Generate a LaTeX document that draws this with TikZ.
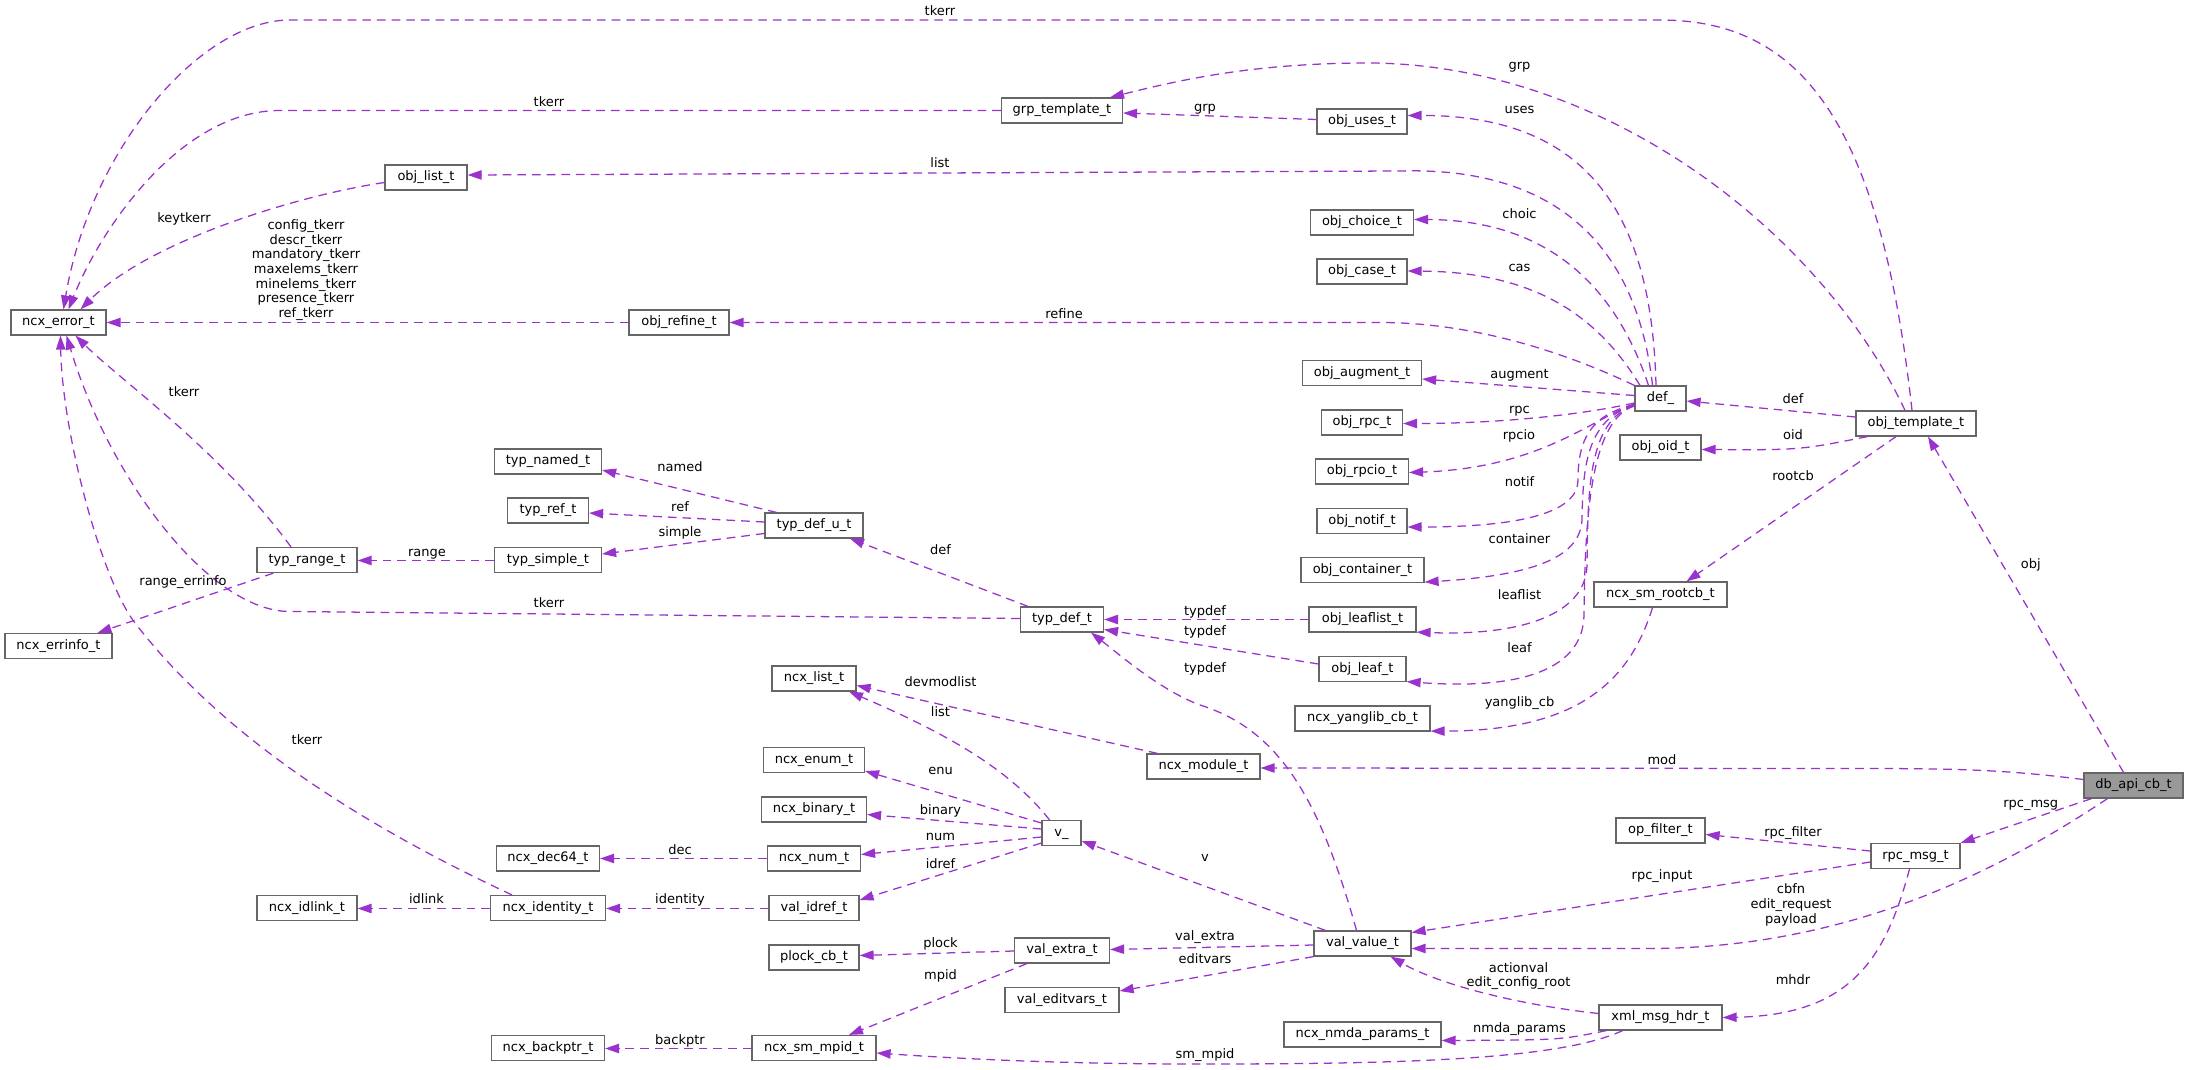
\documentclass[tikz,border=0pt]{standalone}
\usepackage{fontspec}
\setmainfont{DejaVu Sans}
\usetikzlibrary{arrows.meta,calc}
\definecolor{edgec}{HTML}{9A32CD}
\definecolor{boxc}{HTML}{666666}
\definecolor{mainfill}{HTML}{999999}
\begin{document}
\begin{tikzpicture}[x=0.75pt,y=-0.75pt,font=\fontsize{9.75pt}{11pt}\selectfont,
  box/.style={draw=boxc, fill=white, line width=0.9pt, inner sep=0pt, minimum height=18.75pt, text height=7pt, text depth=2.1pt},
  bw/.style={minimum width=#1*0.75pt},
  mainbox/.style={box, fill=mainfill},
  edge/.style={draw=edgec, line width=0.95pt, dash pattern=on 6.5pt off 4.5pt, -{Triangle[length=10.5pt,width=7pt,fill=edgec]}},
  lab/.style={inner sep=0pt, anchor=base},
  mlab/.style={inner sep=0pt, anchor=center, align=center}]
\fill[white] (0,0) rectangle (2188,1070);
\useasboundingbox (0,0) rectangle (2188,1070);

% nodes
\node[box,bw=95] (errt) at (58.5,322.5) {ncx\_error\_t};
\node[box,bw=82] (olist) at (426,177.5) {obj\_list\_t};
\node[box,bw=100] (orefine) at (679,322.5) {obj\_refine\_t};
\node[box,bw=107] (tnamed) at (548,461.5) {typ\_named\_t};
\node[box,bw=81] (tref) at (548,510.5) {typ\_ref\_t};
\node[box,bw=121] (grpt) at (1062,110.5) {grp\_template\_t};
\node[box,bw=90] (ouses) at (1362,121.5) {obj\_uses\_t};
\node[box,bw=103] (ochoice) at (1362,222.5) {obj\_choice\_t};
\node[box,bw=90] (ocase) at (1362,271.5) {obj\_case\_t};
\node[box,bw=119] (oaug) at (1362,373) {obj\_augment\_t};
\node[box,bw=81] (orpc) at (1362,422.5) {obj\_rpc\_t};
\node[box,bw=93] (orpcio) at (1362,471.5) {obj\_rpcio\_t};
\node[box,bw=90] (onotif) at (1362,521) {obj\_notif\_t};
\node[box,bw=98] (tdefu) at (814,525.5) {typ\_def\_u\_t};
\node[box,bw=51] (def) at (1660.5,398.5) {def\_};
\node[box,bw=120] (otmpl) at (1916,423.5) {obj\_template\_t};
\node[box,bw=81] (ooid) at (1660.5,447.5) {obj\_oid\_t};
\node[box,bw=100] (trange) at (307,560) {typ\_range\_t};
\node[box,bw=107] (tsimple) at (548,560) {typ\_simple\_t};
\node[box,bw=107] (errinfo) at (58.5,646) {ncx\_errinfo\_t};
\node[box,bw=103] (dec64) at (548,858.5) {ncx\_dec64\_t};
\node[box,bw=100] (idlink) at (307,908) {ncx\_idlink\_t};
\node[box,bw=115] (ident) at (548,908) {ncx\_identity\_t};
\node[box,bw=113] (backptr) at (548,1048) {ncx\_backptr\_t};
\node[box,bw=83] (tdef) at (1062,619.5) {typ\_def\_t};
\node[box,bw=123] (ocont) at (1362.5,570) {obj\_container\_t};
\node[box,bw=107] (oleaflist) at (1362.5,619.5) {obj\_leaflist\_t};
\node[box,bw=87] (oleaf) at (1362.5,669) {obj\_leaf\_t};
\node[box,bw=135] (yanglib) at (1362.5,718.5) {ncx\_yanglib\_cb\_t};
\node[box,bw=84] (nlist) at (814,678.5) {ncx\_list\_t};
\node[box,bw=113] (nmod) at (1203.5,766.5) {ncx\_module\_t};
\node[box,bw=101] (nenum) at (814,760) {ncx\_enum\_t};
\node[box,bw=105] (nbin) at (814,809.5) {ncx\_binary\_t};
\node[box,bw=39] (v) at (1061.5,833) {v\_};
\node[box,bw=93] (nnum) at (814,858.5) {ncx\_num\_t};
\node[box,bw=90] (vidref) at (814,908) {val\_idref\_t};
\node[box,bw=90] (plock) at (814,957.5) {plock\_cb\_t};
\node[box,bw=95] (vextra) at (1062,950.5) {val\_extra\_t};
\node[box,bw=97] (vvalue) at (1362.5,943.5) {val\_value\_t};
\node[box,bw=114] (veditvars) at (1062,1000) {val\_editvars\_t};
\node[box,bw=157] (nmda) at (1362.5,1034.5) {ncx\_nmda\_params\_t};
\node[box,bw=124] (smmpid) at (814,1048) {ncx\_sm\_mpid\_t};
\node[box,bw=133] (rootcb) at (1660.5,594.5) {ncx\_sm\_rootcb\_t};
\node[mainbox,bw=99] (dbapi) at (2133.5,785.5) {db\_api\_cb\_t};
\node[box,bw=89] (opfilter) at (1660.5,830.5) {op\_filter\_t};
\node[box,bw=89] (rpcmsg) at (1915.5,856) {rpc\_msg\_t};
\node[box,bw=123] (xmlhdr) at (1660.5,1017.5) {xml\_msg\_hdr\_t};

% edges
\draw[edge] ($(otmpl.north)+(-4,0)$) .. controls (1880,120) and (1800,20) .. (1660,20) -- (290,20) .. controls (200,20) and (90,150) .. ($(errt.north)+(5,0)$);
\draw[edge] (grpt.west) -- (280,110.5) .. controls (180,110.5) and (100,230) .. ($(errt.north)+(10,0)$);
\draw[edge] ($(olist.west)+(0,5)$) .. controls (300,195) and (150,240) .. ($(errt.north)+(22,0)$);
\draw[edge] (orefine.west) -- (errt.east);
\draw[edge] ($(trange.north)+(-16,0)$) .. controls (220,450) and (120,380) .. ($(errt.south)+(17,0)$);
\draw[edge] ($(tdef.west)+(0,-1)$) -- (290,611.5) .. controls (210,611.5) and (110,480) .. ($(errt.south)+(8,0)$);
\draw[edge] ($(ident.north)+(-36,0)$) .. controls (330,810) and (210,720) .. (135,623) .. controls (100,577) and (62,430) .. ($(errt.south)+(2,0)$);
\draw[edge] ($(otmpl.north)+(-11,0)$) .. controls (1820,230) and (1600,60) .. (1360,63) .. controls (1250,64) and (1180,80) .. ($(grpt.north)+(48,0)$);
\draw[edge] ($(ouses.west)+(0,-2)$) -- ($(grpt.east)+(0,2.5)$);
\draw[edge] ($(def.north)+(-4.5,0)$) .. controls (1652,230) and (1600,115) .. ($(ouses.east)+(0,-6)$);
\draw[edge] ($(def.north)+(-8,0)$) .. controls (1635,230) and (1540,167) .. (1400,171) -- ($(olist.east)+(0,-2.5)$);
\draw[edge] ($(def.north)+(-12,0)$) .. controls (1620,300) and (1560,220) .. ($(ochoice.east)+(0,-3)$);
\draw[edge] ($(def.north)+(-20.5,0)$) .. controls (1600,320) and (1540,272) .. ($(ocase.east)+(0,-0.5)$);
\draw[edge] (def.north west) .. controls (1560,350) and (1470,322.5) .. (1380,322.5) -- (orefine.east);
\draw[edge] ($(def.west)+(0,-3)$) -- ($(oaug.east)+(0,6)$);
\draw[edge] ($(def.west)+(0,4.5)$) .. controls (1580,415) and (1500,423.5) .. ($(orpc.east)+(0,1)$);
\draw[edge] ($(def.west)+(0,5.5)$) .. controls (1590,420) and (1540,468) .. ($(orpcio.east)+(0,1)$);
\draw[edge] ($(def.west)+(0,6)$) .. controls (1590,415) and (1578,440) .. (1578,480) .. controls (1578,510) and (1530,527) .. ($(onotif.east)+(0,6)$);
\draw[edge] ($(def.west)+(0,6.5)$) .. controls (1585,420) and (1583,470) .. (1582,520) .. controls (1580,555) and (1540,575) .. ($(ocont.south east)+(0,-1)$);
\draw[edge] ($(def.west)+(0,7)$) .. controls (1588,420) and (1588,490) .. (1587,565) .. controls (1586,615) and (1520,636) .. ($(oleaflist.south east)+(0,-0.5)$);
\draw[edge] ($(def.west)+(0,7.5)$) .. controls (1590,420) and (1585,520) .. (1584,615) .. controls (1583,670) and (1520,690) .. ($(oleaf.south east)+(0,-0.5)$);
\draw[edge] ($(otmpl.west)+(0,-6.5)$) -- ($(def.east)+(0,2.5)$);
\draw[edge] ($(otmpl.south west)+(12,0)$) .. controls (1800,450) .. ($(ooid.east)+(0,2)$);
\draw[edge] ($(otmpl.south)+(-20,0)$) -- ($(rootcb.north)+(26,0)$);
\draw[edge] ($(rootcb.south)+(-8,0)$) .. controls (1630,680) and (1580,731) .. ($(yanglib.south east)+(0,-0.5)$);
\draw[edge] ($(dbapi.north)+(-10,0)$) -- ($(otmpl.south)+(12,0)$);
\draw[edge] ($(dbapi.west)+(0,-6)$) .. controls (2000,769) and (1950,768.5) .. (1850,768.5) -- ($(nmod.east)+(0,1.5)$);
\draw[edge] ($(dbapi.south west)+(8,0)$) -- (rpcmsg.north east);
\draw[edge] ($(dbapi.south)+(-26,0)$) .. controls (2000,870) and (1850,948) .. (1650,948.5) -- ($(vvalue.east)+(0,5)$);
\draw[edge] ($(rpcmsg.west)+(0,-5)$) -- ($(opfilter.east)+(0,4)$);
\draw[edge] ($(rpcmsg.west)+(0,6)$) -- ($(vvalue.east)+(0,-11)$);
\draw[edge] ($(rpcmsg.south)+(-6,0)$) .. controls (1885,960) and (1850,1015) .. (xmlhdr.east);
\draw[edge] ($(xmlhdr.west)+(0,-4)$) .. controls (1520,1005) and (1440,985) .. ($(vvalue.south)+(28,0)$);
\draw[edge] ($(xmlhdr.south west)+(8,0)$) .. controls (1560,1040) .. ($(nmda.east)+(0,6)$);
\draw[edge] ($(xmlhdr.south)+(-38,0)$) .. controls (1560,1060) and (1400,1064) .. (1200,1064) .. controls (1050,1064) and (950,1058) .. ($(smmpid.east)+(0,5)$);
\draw[edge] ($(vvalue.north)+(-6,0)$) .. controls (1320,800) and (1280,730) .. (1200,705) .. controls (1160,690) and (1120,655) .. ($(tdef.south)+(29,0)$);
\draw[edge] (oleaflist.west) -- (tdef.east);
\draw[edge] ($(oleaf.west)+(0,-5)$) -- ($(tdef.east)+(0,10)$);
\draw[edge] ($(tdef.north)+(-34,0)$) -- ($(tdefu.south)+(36,0)$);
\draw[edge] ($(tdefu.north west)+(12,0)$) -- ($(tnamed.east)+(0,8.5)$);
\draw[edge] ($(tdefu.west)+(0,-3.5)$) -- ($(tref.east)+(0,2.5)$);
\draw[edge] ($(tdefu.west)+(0,8)$) -- ($(tsimple.east)+(0,-6)$);
\draw[edge] ($(tsimple.west)+(0,0.5)$) -- ($(trange.east)+(0,0.5)$);
\draw[edge] ($(trange.south west)+(17,0)$) -- ($(errinfo.north)+(39,0)$);
\draw[edge] ($(nmod.north west)+(11,0)$) -- ($(nlist.east)+(0,7)$);
\draw[edge] ($(v.north)+(-12,0)$) .. controls (1010,770) and (950,735) .. ($(nlist.south)+(35,0)$);
\draw[edge] ($(v.west)+(0,-10)$) -- ($(nenum.east)+(0,11)$);
\draw[edge] ($(v.west)+(0,-4)$) -- ($(nbin.east)+(0,5)$);
\draw[edge] ($(v.west)+(0,4)$) -- ($(nnum.east)+(0,-4)$);
\draw[edge] ($(v.west)+(0,10)$) -- ($(vidref.east)+(0,-8)$);
\draw[edge] (nnum.west) -- (dec64.east);
\draw[edge] ($(vidref.west)+(0,0.5)$) -- ($(ident.east)+(0,0.5)$);
\draw[edge] ($(ident.west)+(0,0.5)$) -- ($(idlink.east)+(0,0.5)$);
\draw[edge] ($(vvalue.north west)+(12,0)$) -- ($(v.east)+(0,8)$);
\draw[edge] ($(vvalue.west)+(0,1.5)$) -- ($(vextra.east)+(0,-1)$);
\draw[edge] (vvalue.south west) -- ($(veditvars.east)+(0,-9)$);
\draw[edge] ($(vextra.west)+(0,0.5)$) -- ($(plock.east)+(0,-2)$);
\draw[edge] ($(vextra.south west)+(13,0)$) -- ($(smmpid.north)+(35,0)$);
\draw[edge] ($(smmpid.west)+(0,0.5)$) -- ($(backptr.east)+(0,0.5)$);

% labels
\node[lab] (l1) at (940,15.5) {tkerr};
\node[lab] (l2) at (549,106.5) {tkerr};
\node[lab] (l3) at (184,222.5) {keytkerr};
\node[mlab] (l4) at (306,270) {config\_tkerr\\descr\_tkerr\\mandatory\_tkerr\\maxelems\_tkerr\\minelems\_tkerr\\presence\_tkerr\\ref\_tkerr};
\node[lab] (l5) at (184,396) {tkerr};
\node[lab] (l6) at (680,471.5) {named};
\node[lab] (l7) at (680,511.5) {ref};
\node[lab] (l8) at (680,536.5) {simple};
\node[lab] (l9) at (1205,112) {grp};
\node[lab] (l10) at (940,167.5) {list};
\node[lab] (l11) at (1064,318.5) {refine};
\node[lab] (l12) at (1519.5,69.5) {grp};
\node[lab] (l13) at (1519.5,113.5) {uses};
\node[lab] (l14) at (1519.5,218.5) {choic};
\node[lab] (l15) at (1519.5,271) {cas};
\node[lab] (l16) at (1519.5,378.5) {augment};
\node[lab] (l17) at (1519.5,413.5) {rpc};
\node[lab] (l18) at (1519,439.5) {rpcio};
\node[lab] (l19) at (1519.5,486.5) {notif};
\node[lab] (l20) at (1793,403.5) {def};
\node[lab] (l21) at (1793,439.5) {oid};
\node[lab] (l22) at (1793,480.5) {rootcb};
\node[lab] (l23) at (1519.5,543.5) {container};
\node[lab] (l24) at (1519.5,599) {leaflist};
\node[lab] (l25) at (1519.5,652.5) {leaf};
\node[lab] (l26) at (1519.5,706.5) {yanglib\_cb};
\node[lab] (l27) at (2030.7,568.5) {obj};
\node[lab] (l28) at (1662,764.5) {mod};
\node[lab] (l29) at (2030.7,807.5) {rpc\_msg};
\node[lab] (l30) at (1793,836.5) {rpc\_filter};
\node[lab] (l31) at (1662,879.5) {rpc\_input};
\node[mlab] (l32) at (1791,905) {cbfn\\edit\_request\\payload};
\node[mlab] (l33) at (1518.5,976) {actionval\\edit\_config\_root};
\node[lab] (l34) at (1793,984) {mhdr};
\node[lab] (l35) at (1519.5,1032.5) {nmda\_params};
\node[lab] (l36) at (427,556) {range};
\node[lab] (l37) at (183,585) {range\_errinfo};
\node[lab] (l38) at (549,607.5) {tkerr};
\node[lab] (l39) at (307,744.5) {tkerr};
\node[lab] (l40) at (680,854.5) {dec};
\node[lab] (l41) at (426.5,903.5) {idlink};
\node[lab] (l42) at (680,903.5) {identity};
\node[lab] (l43) at (680,1044.5) {backptr};
\node[lab] (l44) at (940.5,554) {def};
\node[lab] (l45) at (1205,615.5) {typdef};
\node[lab] (l46) at (1205,635.5) {typdef};
\node[lab] (l47) at (1205,672.5) {typdef};
\node[lab] (l48) at (940.5,686.5) {devmodlist};
\node[lab] (l49) at (940.5,716.5) {list};
\node[lab] (l50) at (940.5,774.5) {enu};
\node[lab] (l51) at (940.5,814.5) {binary};
\node[lab] (l52) at (940.5,840.5) {num};
\node[lab] (l53) at (940.5,868.5) {idref};
\node[lab] (l54) at (1205,861) {v};
\node[lab] (l55) at (940.5,947.5) {plock};
\node[lab] (l56) at (1205,940.5) {val\_extra};
\node[lab] (l57) at (1205,963.5) {editvars};
\node[lab] (l58) at (940.5,979.5) {mpid};
\node[lab] (l59) at (1205,1058.5) {sm\_mpid};
\end{tikzpicture}
\end{document}
